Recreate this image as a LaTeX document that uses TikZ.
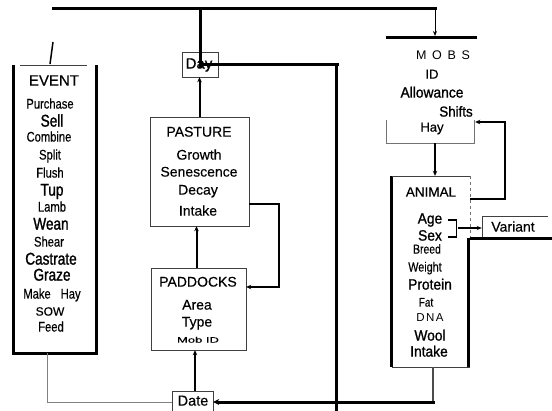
\documentclass[tikz,border=0pt]{standalone}
\usepackage{fontspec}
\setmainfont[FakeBold=0.4]{Liberation Sans}
\newfontfamily\nar[FakeStretch=0.8,FakeBold=0.4]{Liberation Sans}
\newfontfamily\narb[FakeStretch=0.8,FakeBold=1.3]{Liberation Sans}
\newfontfamily\medb[FakeStretch=0.92,FakeBold=1.1]{Liberation Sans}
\newfontfamily\spcw[LetterSpace=45]{Liberation Sans}
\newfontfamily\spcn[LetterSpace=12]{Liberation Sans}
\usetikzlibrary{arrows.meta}
\newcommand\fz[1]{\fontsize{#1}{#1}\selectfont}
\begin{document}
\begin{tikzpicture}[x=1pt,y=-1pt,
  thickln/.style={line width=3pt},
  thinln/.style={line width=0.6pt, black!75},
  arr/.style={line width=2pt, -{Stealth[length=5pt,width=4.5pt]}},
  thinarr/.style={line width=0.9pt, -{Stealth[length=5pt,width=4pt]}},
  boxn/.style={draw=none, inner sep=0pt, rectangle},
  txt/.style={inner sep=0pt, text height=0.72em, text depth=0pt},
  ev/.style={txt, font=\nar\fz{14}},
  evb/.style={txt, font=\narb\fz{17}},
  mid/.style={txt, font=\fz{14}},
  midb/.style={txt, font=\medb\fz{15}},
  sm/.style={txt, font=\nar\fz{13}}
]
\useasboundingbox (0,0) rectangle (552,410);

% ---------- boxes ----------
\node[boxn, minimum width=82pt, minimum height=288pt] (event) at (55,209) {};
\node[boxn, minimum width=99pt, minimum height=109pt] (pasture) at (199.5,171.5) {};
\node[boxn, minimum width=95pt, minimum height=82pt] (paddocks) at (198.5,309) {};
\node[boxn, minimum width=36pt, minimum height=25pt] (day) at (200,64.5) {};
\node[boxn, minimum width=41pt, minimum height=22pt] (date) at (192.5,402) {};
\node[boxn, minimum width=88pt, minimum height=105pt] (mobs) at (430,90.5) {};
\node[boxn, minimum width=78pt, minimum height=191pt] (animal) at (431,271.5) {};
\node[boxn, minimum width=70pt, minimum height=22pt] (variant) at (517,227) {};

% EVENT borders
\draw[thickln] (event.north west) -- (event.south west) -- (event.south east) -- (event.north east);
\draw[thinln] ([xshift=6pt]event.north west) -- ([xshift=-9pt]event.north east);
% PASTURE, PADDOCKS, Day
\draw[thinln] (pasture.north west) rectangle (pasture.south east);
\draw[thinln] (paddocks.north west) rectangle (paddocks.south east);
\draw[thinln] (day.north west) rectangle (day.south east);
% Date
\draw[thinln] (date.south west) -- (date.north west) -- (date.north east) -- (date.south east);
% MOBS
\draw[thickln] (mobs.north west) -- ([xshift=3pt]mobs.north east);
\draw[thinln, black!55] (mobs.south west) ++(0,-23) -- (mobs.south west) -- (mobs.south east) -- ++(0,-23);
% ANIMAL
\draw[thickln] (animal.north west) -- (animal.south west);
\draw[thinln] (animal.north west) -- (animal.north east);
\draw[thinln] (animal.south west) -- (animal.south east);
\draw[thinln, black!55, dashed] (animal.north east) -- ++(0,62);
\draw[thickln] ([xshift=-1.5pt]animal.north east) ++(0,62) -- ([xshift=-1.5pt]animal.south east) ++(0,-7);
% Variant
\draw[thinln] (variant.south west) -- (variant.north west) -- ([xshift=-4pt]variant.north east);
\draw[thickln] (variant.south west) ++(-12,0) -- (variant.south east);

% ---------- texts ----------
\node[txt, font=\fz{15}] (tEvent) at (54,82) {EVENT};
\node[ev]  (tPurchase) at (50,105) {Purchase};
\node[evb] (tSell)     at (52,123) {Sell};
\node[ev]  (tCombine)  at (49,138) {Combine};
\node[ev]  (tSplit)    at (50,156) {Split};
\node[ev]  (tFlush)    at (50,174) {Flush};
\node[evb] (tTup)      at (52,192) {Tup};
\node[ev]  (tLamb)     at (52,208) {Lamb};
\node[evb] (tWean)     at (51,226) {Wean};
\node[ev]  (tShear)    at (49,243) {Shear};
\node[evb] (tCastrate) at (51,261) {Castrate};
\node[evb] (tGraze)    at (52,277) {Graze};
\node[ev]  (tMakeHay)  at (52,295) {Make\hspace{10pt}Hay};
\node[txt, font=\fz{12}] (tSow) at (50,312) {SOW};
\node[ev]  (tFeed)     at (51,328) {Feed};

\node[mid] (tPasture)    at (199,133) {PASTURE};
\node[mid] (tGrowth)     at (199,156) {Growth};
\node[mid] (tSenescence) at (199,173) {Senescence};
\node[mid] (tDecay)      at (198,191) {Decay};
\node[mid] (tPIntake)    at (198,212) {Intake};

\node[mid] (tPaddocks) at (198,283) {PADDOCKS};
\node[mid] (tArea)     at (197,306) {Area};
\node[mid] (tType)     at (197,323) {Type};
\node[txt, font=\fz{13}] (tMobID) at (198,339) {\scalebox{1}[0.6]{Mob ID}};

\node[txt, font=\fz{15}] (tDay)  at (199,65) {Day};
\node[txt, font=\fz{14.5}] (tDate) at (193,402) {Date};

\node[txt, font=\spcw\fz{12.5}] (tMobs) at (443,56) {MOBS};
\node[txt, font=\fz{13}] (tID) at (432,75) {ID};
\node[midb] (tAllow)  at (432,94) {Allowance};
\node[txt, font=\medb\fz{14.5}] (tShifts) at (456,113) {Shifts};
\node[txt, font=\fz{13}] (tHay) at (432,128) {Hay};

\node[txt, font=\fz{13.5}] (tAnimal) at (431,193) {ANIMAL};
\node[midb] (tAge)     at (430,220) {Age};
\node[midb] (tSex)     at (430,237) {Sex};
\node[sm]  (tBreed)   at (427,250) {Breed};
\node[txt, font=\nar\fz{13.5}] (tWeight) at (425,268) {Weight};
\node[midb] (tProtein) at (430,286) {Protein};
\node[txt, font=\nar\fz{12.5}] (tFat) at (426,303) {Fat};
\node[txt, font=\spcn\fz{11.5}] (tDNA) at (430,318) {DNA};
\node[midb] (tWool) at (430,337) {Wool};
\node[midb] (tAIntake) at (429,353) {Intake};

\node[txt, font=\fz{14}] (tVariant) at (513,228) {Variant};

% ---------- connectors ----------
\coordinate (tl) at (52,8);
\coordinate (tr) at (437,8);
\draw[thickln] (tl) -- (tr);
\draw[thickln] (day.north |- tl) -- ++(0,60);
\coordinate (dr) at (336,64.5);
\coordinate (drb) at (336,412);
\draw[thickln] (day.center) -- ([xshift=3pt]dr);
\draw[thickln] (dr) ++(0,-1.5) -- (drb);
\draw[thinarr] ([xshift=-2pt]tr) -- ++(0,28);

\draw[arr] (pasture.north) -- (pasture.north |- day.south);
\draw[arr] ([xshift=-2pt]paddocks.north) -- ([xshift=-2pt]paddocks.north |- pasture.south);
\draw[arr] ([xshift=2.5pt]date.north) -- ([xshift=2.5pt]date.north |- paddocks.south);
\draw[arr, line width=2.5pt] ([yshift=-32.5pt]pasture.east) -- ++(30,0) |- ([yshift=22pt]paddocks.east);

\draw[arr] ([xshift=5pt]mobs.south) -- ([xshift=5pt]mobs.south |- animal.north);
\draw[arr] ([yshift=72.5pt]animal.east) -- ++(35,0) |- ([yshift=-31.5pt,xshift=1pt]mobs.east);

\draw[line width=1.8pt] ([xshift=6pt]tAge.east) -- ++(8,0) coordinate (bk) |- ([xshift=6pt]tSex.east);
\coordinate (bm) at (457.5,228);
\draw[thinarr, line width=1.2pt] (bm) -- (bm -| variant.west);

\coordinate (ab) at (433,402);
\draw[line width=1.4pt, black!70] ([xshift=2pt]animal.south) -- (ab);
\draw[thickln, -{Stealth[length=6pt,width=6pt]}] ([xshift=1.5pt]ab) -- (date.east);
\draw[thinln, black!50] ([xshift=-8pt]event.south) |- (date.west);

\coordinate (sl1) at (53,42);
\coordinate (sl2) at (50,64);
\draw[line width=1.5pt] (sl1) -- (sl2);
\end{tikzpicture}
\end{document}
